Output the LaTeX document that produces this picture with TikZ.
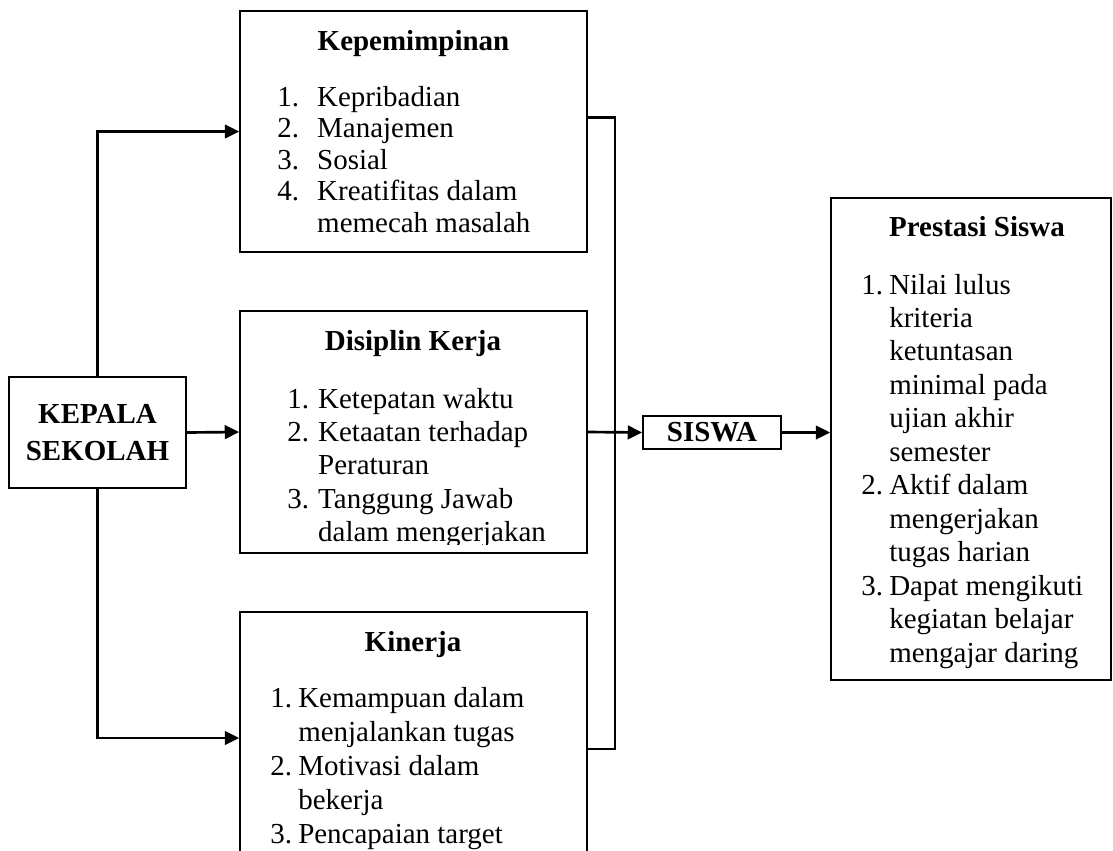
\documentclass[tikz,border=0pt]{standalone}
\usepackage{fontspec}
\setmainfont{Liberation Serif}
\usepackage{array}
\usetikzlibrary{arrows.meta, positioning, fit, calc}
\tikzset{
  kotak/.style={rectangle, draw=black, line width=1.2pt, inner sep=0pt},
  judul/.style={anchor=base, inner sep=0pt, font=\fontsize{20.6}{24}\selectfont\bfseries},
  isi/.style={anchor=base west, inner sep=0pt, font=\fontsize{20.6}{#1}\selectfont},
  isi/.default=23.8,
  garis/.style={line width=1.9pt, black},
  panah/.style={garis, -{Triangle[length=3.6mm, width=3.4mm]}},
}
\begin{document}
\begin{tikzpicture}[x=0.025cm, y=-0.025cm]
  \useasboundingbox (0,0) rectangle (1113,850);
  \clip (0,0) rectangle (1113,850);

  % Boxes
  \node[kotak, minimum width=4.425cm, minimum height=2.775cm, align=center,
        font=\fontsize{20.6}{26.3}\selectfont\bfseries] (kepala) at (97.5,432.5) {KEPALA\\SEKOLAH};
  \node[kotak, fit={(240,11) (587,252)}] (pimpin) {};
  \node[kotak, fit={(240,311) (587,553)}] (disiplin) {};
  \node[kotak, fit={(240,612) (587,864)}] (kinerja) {};
  \node[kotak, minimum width=3.45cm, minimum height=0.825cm,
        font=\fontsize{20.6}{24}\selectfont\bfseries] (siswa) at (712,432.5) {SISWA};
  \node[kotak, fit={(831,198) (1111,680)}] (prestasi) {};

  % Kepemimpinan
  \node[judul] (pimpin-judul) at (413.5,50) {Kepemimpinan};
  \node[isi=22.4] (pimpin-isi) at (277,106) {\begin{tabular}[t]{@{}p{28.4pt}@{}l@{}}
    1. & Kepribadian\\ 2. & Manajemen\\ 3. & Sosial\\ 4. & Kreatifitas dalam\\ & memecah masalah
  \end{tabular}};

  % Disiplin Kerja (isi terpotong di tepi bawah)
  \node[judul] (disiplin-judul) at (413,350) {Disiplin Kerja};
  \begin{scope}
    \clip (240,311) rectangle (587,544);
    \node[isi=23.8] (disiplin-isi) at (287,408) {\begin{tabular}[t]{@{}p{22pt}@{}l@{}}
      1. & Ketepatan waktu\\ 2. & Ketaatan terhadap\\ & Peraturan\\ 3. & Tanggung Jawab\\ & dalam mengerjakan
    \end{tabular}};
  \end{scope}

  % Kinerja
  \node[judul] (kinerja-judul) at (413,651) {Kinerja};
  \node[isi=24.2] (kinerja-isi) at (270,707) {\begin{tabular}[t]{@{}p{19.9pt}@{}l@{}}
    1. & Kemampuan dalam\\ & menjalankan tugas\\ 2. & Motivasi dalam\\ & bekerja\\ 3. & Pencapaian target
  \end{tabular}};

  % Prestasi Siswa
  \node[judul] (prestasi-judul) at (977,236) {Prestasi Siswa};
  \node[isi=23.8] (prestasi-isi) at (861,294) {\begin{tabular}[t]{@{}p{19.9pt}@{}l@{}}
    1. & Nilai lulus\\ & kriteria\\ & ketuntasan\\ & minimal pada\\ & ujian akhir\\ & semester\\
    2. & Aktif dalam\\ & mengerjakan\\ & tugas harian\\
    3. & Dapat mengikuti\\ & kegiatan belajar\\ & mengajar daring
  \end{tabular}};

  % Arrows
  \coordinate (simpul) at (615,432);
  \draw[panah] (kepala.north) |- (pimpin.west);
  \draw[panah] (kepala.east) -- (disiplin.west);
  \draw[panah] (kepala.south) |- (kinerja.west);
  \draw[garis] ($(pimpin.east)+(0,-14)$) -| (simpul) |- ($(kinerja.east)+(0,11)$);
  \draw[panah] (disiplin.east) -- (siswa.west);
  \draw[panah] (siswa.east) -- (siswa.east -| prestasi.west);
\end{tikzpicture}
\end{document}
